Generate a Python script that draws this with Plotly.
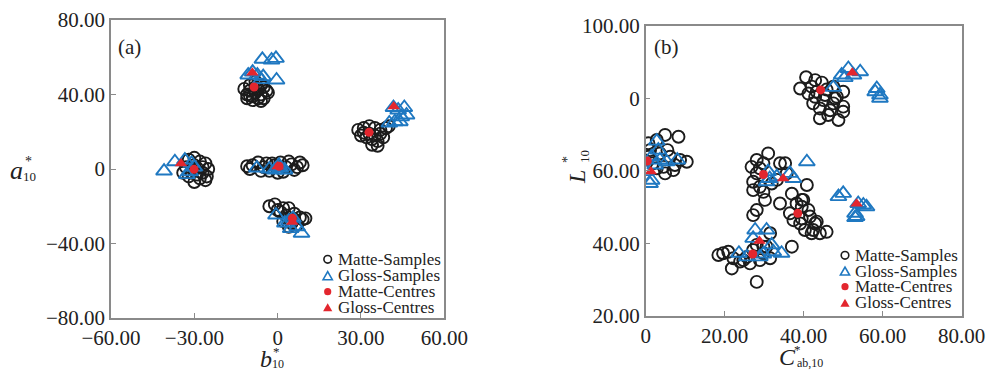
import plotly.graph_objects as go

W, H = 989, 370

# ---------------- Panel (a): b*10 (x) vs a*10 (y) ----------------
a_matte_b = [-11, -10, -9, -8, -7, -6, -5, -4, -10, -8, -6, -11, -9, -7, -5, -3.5, -12, -6, -8, -10,
             -32, -30, -28, -26, -25, -27, -29, -31, -33, -30, -28, -26, -30, -32, -27, -25.5, -29, -34,
             -11, -9, -7, -5, -3, -1, 1, 3, 5, 7, 9, -6, 2, 6, -2, 4, -4, 8, -10, 0,
             29, 31, 33, 35, 37, 39, 30, 32, 34, 36, 38, 34, 36, 33, 37, 40, 31, 35,
             -3, -1, 2, 4, 6, 8, 9, 3, 1, 5, 7, 4, 2, 6, 0, 10]
a_matte_a = [40, 42, 39, 41, 43, 40, 38, 42, 45, 44, 45, 38, 37, 38, 44, 41, 43, 36.5, 47, 39.5,
             5, 6, 4, 3, 0, -2, -3, -2, 1, 2, -5, -6, -7, -4, 1, -4, 0.5, -2,
             1.5, 2, 3.5, 1, -1, 2, 3.5, 1, 2.5, 1, 2, -1, -1.5, -0.5, 3, 4, 3, 3.5, 0, -2,
             21, 22, 23, 22, 21, 22, 18, 17, 16, 15, 17, 13, 12.5, 19, 19, 23, 19.5, 18,
             -20, -19, -21, -21, -24, -26, -27, -25, -23, -29, -30, -31, -28, -27, -22, -26.5]

a_gloss_b = [-5.5, -2.2, -0.6, -0.4, -9, -10.6, -5.2, -7.3, -6,
             -40.9, -37, -33.4, -31, -31.5, -32.7, -30,
             -7.5, -3, 0, 1, -1, 2.5, 0.5,
             41.7, 43.4, 45.6, 46.4, 42.2, 44, 40.2, 44.5,
             -0.6, 2.6, 5.5, 8.6, 7, 4.7, 4]
a_gloss_a = [58.9, 58.5, 59.4, 47.8, 52, 50.5, 49.6, 50.4, 48,
             -1.1, 3.9, 4.8, 3, -1.5, -3, 1,
             0.5, 0, 1, 0.5, -0.5, -0.5, 2,
             33, 31.7, 33, 29, 25.4, 25.4, 24.7, 28,
             -24.7, -29, -26.5, -34.5, -31, -32, -28]

a_matte_c_b = [-8.5, -30.1, 0.5, 32.9, 5.3]
a_matte_c_a = [44, -0.2, 1.5, 19.7, -26.5]
a_gloss_c_b = [-9.1, -34.8, 0, 41.8, 5.3]
a_gloss_c_a = [51.7, 3, 1.3, 33.5, -28.5]

a_xtickvals = [-60, -30, 0, 30, 60]
a_xticktext = ["\u221260.00", "\u221230.00", "0", "30.00", "60.00"]
a_ytickvals = [-80, -40, 0, 40, 80]
a_yticktext = ["\u221280.00", "\u221240.00", "0", "40.00", "80.00"]

# ---------------- Panel (b): C*ab,10 (x) vs L*10 (y) ----------------
b_matte_c = [40.6, 42.9, 44.6, 42, 39.1, 41.2, 43.3, 45.8, 47.5, 50, 48.4, 45, 42.4, 47.5, 50, 44.1,
             50, 46.2, 44.1, 48.8, 46.7, 42.9, 45.4, 47.9,
             0.7, 2.8, 4.9, 8.3, 1.1, 3.6, 6.2, 8.7, 10.4, 1.9, 4.5, 7, 4.9, 2.8, 0.7, 5.5, 7.4,
             31, 28.1, 29.8, 26.8, 28.1, 27.2, 28.9, 27.2, 29.8, 30.2, 31.9, 34, 35.3, 35.7, 37,
             40.8, 39.5, 34, 28.1, 27.2, 33.2, 28.9,
             36.5, 38.2, 39.9, 37.4, 39.1, 41.6, 43.3, 42.4, 44.1, 45.8, 40.3, 37, 39.5, 41.2, 42.9, 42,
             39.5,
             18.4, 19.6, 20.9, 22.2, 21.8, 23.9, 25.6, 27.2, 28.1, 29.8, 31.5, 28.9, 26.4, 28.1, 24.7,
             30.6, 31.5, 29.8]
b_matte_l = [85.8, 85, 84.3, 83.2, 82.7, 81.3, 81.8, 82.4, 83.2, 81.8, 80.4, 79.5, 78.6, 78.6, 77.7, 77.2,
             76.3, 75.4, 74.5, 74, 76.7, 80.4, 80.9, 80,
             67.6, 68.5, 69.9, 69.4, 65.7, 64.8, 63.9, 63, 62.5, 62.1, 61.1, 60.2, 59.3, 60.7, 63.9, 65.7, 61.6,
             64.8, 63, 62.1, 61.1, 59.3, 57, 55.6, 54.7, 54.2, 52, 56.5, 62.1, 62.1, 59.3, 53.7,
             56.1, 52, 51, 49.2, 47.8, 57.5, 60.7,
             48.3, 51, 52, 46.4, 45.5, 47.4, 46, 43.7, 42.8, 43.2, 43.7, 39.1, 46.9, 49.2, 45.5, 42.8,
             50.1,
             36.8, 37.3, 37.7, 35.9, 33.1, 35, 36.3, 38.2, 39.6, 37.3, 35.9, 35.4, 34.5, 29.4, 35.4,
             39.1, 42.8, 39.1]

b_gloss_c = [47.5, 49.6, 51.3, 50.4, 54.3, 52.6, 58.5, 59.3, 59.3, 58.1,
             2.8, 3.2, 1.5, 3.6, 5.3, 8, 0.1, 1.1, 1.5, 2.4,
             31, 31.4, 33.2, 36.5, 37.4, 40.8, 30.6,
             48.8, 50, 53.8, 55.1, 55.9, 53, 53.4, 53,
             23.6, 25.6, 27.7, 30.6, 31.9, 34.4, 29.8, 27.2, 32.3, 28.9]
b_gloss_l = [83, 86.4, 88.2, 85.7, 87.3, 86.4, 82.7, 80.9, 80, 81.8,
             68.2, 65.7, 63.9, 63, 62.5, 63, 59.8, 56.5, 57.4, 61.6,
             59.8, 57.9, 58.4, 59.3, 57.9, 62.5, 57,
             52.9, 53.8, 51, 50.6, 50.1, 48.3, 47.4, 47.1,
             37.3, 36.3, 43.7, 43.7, 39.6, 37.3, 37.1, 41.4, 37.7, 36.3]

b_matte_cc = [44.3, 0.4, 29.8, 38.5, 27.1]
b_matte_cl = [82.3, 62.7, 59, 48.3, 37.1]
b_gloss_cc = [52.3, 1.3, 34.8, 53.4, 28.8]
b_gloss_cl = [87, 59.8, 57.9, 50.9, 40.7]

b_xtickvals = [0, 20, 40, 60, 80]
b_xticktext = ["0", "20.00", "40.00", "60.00", "80.00"]
b_ytickvals = [20, 40, 60, 80, 100]
b_yticktext = ["20.00", "40.00", "60.00", "0", "100.00"]

legend_names = ["Matte-Samples", "Gloss-Samples", "Matte-Centres", "Gloss-Centres"]

# ---------------- styles ----------------
BLACK = "#1c1c1c"
BLUE = "#1f78c1"
RED = "#e3262e"
FRAME = "#8a8a8a"
SERIF = "Liberation Serif"

fig = go.Figure()

def add_panel(xs, ys, xa, ya):
    (mx, gx, mcx, gcx), (my, gy, mcy, gcy) = xs, ys
    fig.add_trace(go.Scatter(x=mx, y=my, mode="markers", xaxis=xa, yaxis=ya, showlegend=False,
                             marker=dict(symbol="circle-open", size=12, color=BLACK, line=dict(width=1.9, color=BLACK))))
    fig.add_trace(go.Scatter(x=gx, y=gy, mode="markers", xaxis=xa, yaxis=ya, showlegend=False,
                             marker=dict(symbol="triangle-up-open", size=14, color=BLUE, line=dict(width=1.9, color=BLUE))))
    fig.add_trace(go.Scatter(x=mcx, y=mcy, mode="markers", xaxis=xa, yaxis=ya, showlegend=False,
                             marker=dict(symbol="circle", size=9, color=RED, line=dict(width=0))))
    fig.add_trace(go.Scatter(x=gcx, y=gcy, mode="markers", xaxis=xa, yaxis=ya, showlegend=False,
                             marker=dict(symbol="triangle-up", size=11, color=RED, line=dict(width=0))))

add_panel((a_matte_b, a_gloss_b, a_matte_c_b, a_gloss_c_b),
          (a_matte_a, a_gloss_a, a_matte_c_a, a_gloss_c_a), "x", "y")
add_panel((b_matte_c, b_gloss_c, b_matte_cc, b_gloss_cc),
          (b_matte_l, b_gloss_l, b_matte_cl, b_gloss_cl), "x2", "y2")

def px_x(p):
    return p / W

def px_y(p):
    return 1 - p / H

axis_common = dict(showline=True, mirror=True, linecolor=FRAME, linewidth=1.5,
                   ticks="inside", ticklen=5, tickcolor=FRAME, tickwidth=1.2,
                   showgrid=False, zeroline=False, tickmode="array", automargin=False,
                   tickfont=dict(family=SERIF, size=21, color="#222"))

fig.update_layout(
    width=W, height=H, margin=dict(l=0, r=0, t=0, b=0, pad=0, autoexpand=False),
    paper_bgcolor="white", plot_bgcolor="white", showlegend=False,
    xaxis=dict(domain=[px_x(111), px_x(444.3)], range=[-60, 60], anchor="y",
               tickvals=a_xtickvals, ticktext=a_xticktext, **axis_common),
    yaxis=dict(domain=[px_y(318), px_y(20)], range=[-80, 80], anchor="x",
               tickvals=a_ytickvals, ticktext=a_yticktext, **axis_common),
    xaxis2=dict(domain=[px_x(645.7), px_x(961.7)], range=[0, 80], anchor="y2",
                tickvals=b_xtickvals, ticktext=b_xticktext, **axis_common),
    yaxis2=dict(domain=[px_y(316), px_y(25.7)], range=[20, 100], anchor="x2",
                tickvals=b_ytickvals, ticktext=b_yticktext, **axis_common),
)

annotations = []
shapes = []

def text(x, y, s, size, xanchor="center", yanchor="middle", angle=0, color="#222"):
    annotations.append(dict(x=px_x(x), y=px_y(y), xref="paper", yref="paper", text=s, showarrow=False,
                            xanchor=xanchor, yanchor=yanchor, textangle=angle,
                            font=dict(family=SERIF, size=size, color=color)))

# panel labels
text(129, 47, "(a)", 21)
text(666, 47, "(b)", 21)

# axis titles (letter + stacked super/subscript)
text(16, 170, "<i>a</i>", 26)
text(28, 161, "*", 14)
text(29, 176, "10", 13)
text(266, 359, "<i>b</i>", 24)
text(276, 351, "*", 13)
text(278, 364, "10", 12)
text(787, 357, "<i>C</i>", 24)
text(797, 349, "*", 13)
text(810, 363, "ab,10", 12)
text(577, 177, "<i>L</i>", 24, angle=-90)
text(567, 160, "*", 14, angle=-90)
text(584, 157, "10", 13, angle=-90)

# custom legends
def circle(cx, cy, r, fill, line, lw):
    shapes.append(dict(type="circle", xref="paper", yref="paper",
                       x0=px_x(cx - r), x1=px_x(cx + r), y0=px_y(cy + r), y1=px_y(cy - r),
                       fillcolor=fill, line=dict(color=line, width=lw)))

def triangle(cx, cy, h, fill, line, lw):
    w = h * 1.15
    pts = [(cx - w / 2, cy + h / 2), (cx + w / 2, cy + h / 2), (cx, cy - h / 2)]
    path = "M " + " L ".join(f"{px_x(a):.5f},{px_y(b):.5f}" for a, b in pts) + " Z"
    shapes.append(dict(type="path", xref="paper", yref="paper", path=path,
                       fillcolor=fill, line=dict(color=line, width=lw)))

def legend(mx, tx, rows):
    circle(mx, rows[0], 3.8, "rgba(0,0,0,0)", BLACK, 1.6)
    triangle(mx, rows[1], 8, "rgba(0,0,0,0)", BLUE, 1.6)
    circle(mx, rows[2], 3.6, RED, RED, 0)
    triangle(mx, rows[3], 8, RED, RED, 0)
    for name, ry in zip(legend_names, rows):
        text(tx, ry, name, 17, xanchor="left")

legend(327.7, 336, [259.3, 275.7, 291.7, 307.3])
legend(845, 853, [255.3, 271, 286.7, 302.7])

fig.update_layout(annotations=annotations, shapes=shapes)

fig.write_html("out.html", config={"displayModeBar": False},
               post_script="document.body.style.margin='0';document.body.style.overflow='hidden';")
